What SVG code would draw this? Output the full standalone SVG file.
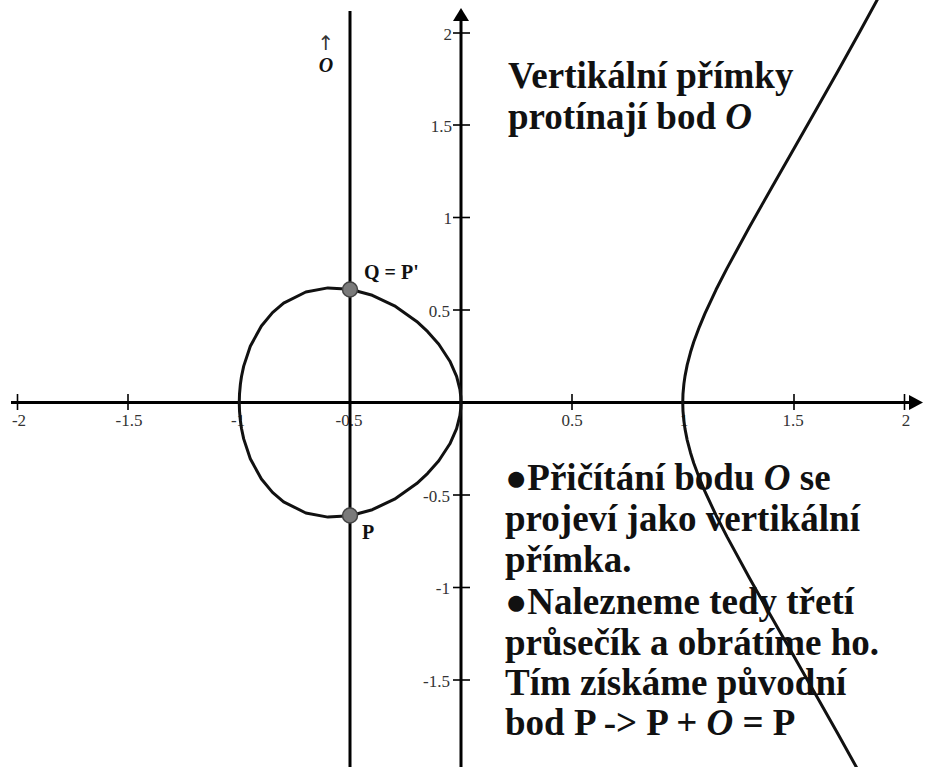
<svg xmlns="http://www.w3.org/2000/svg" width="926" height="767" viewBox="0 0 926 767">
<style>
.ax{stroke:#000;stroke-width:3;fill:none}
.tk{stroke:#000;stroke-width:1.6;fill:none}
.cv{stroke:#111;stroke-width:3;fill:none;stroke-linejoin:round;stroke-linecap:round}
.lb{font-family:'Liberation Serif','Times New Roman',Tinos,'DejaVu Serif',serif;font-size:17px;fill:#333}
.lx{text-anchor:middle}
.ly{text-anchor:end}
.big{font-family:'Liberation Serif','Times New Roman',Tinos,'DejaVu Serif',serif;font-weight:bold;font-size:37px;fill:#111}
.pt{fill:#7a7a7a;stroke:#444;stroke-width:1.5}
.pl{font-family:'Liberation Serif','Times New Roman',Tinos,'DejaVu Serif',serif;font-weight:bold;font-size:20px;fill:#111}
</style>
<rect width="926" height="767" fill="#fff"/>
<g id="axes">
<line class="ax" x1="11" y1="402.5" x2="912" y2="402.5"/>
<polygon points="923,402.5 909,395 909,410" fill="#000"/>
<line class="ax" x1="461" y1="767" x2="461" y2="18"/>
<polygon points="461,8 453,21 469,21" fill="#000"/>
<g class="tk">
<line x1="17.5" y1="394" x2="17.5" y2="410"/>
<line x1="128" y1="394" x2="128" y2="410"/>
<line x1="239" y1="394" x2="239" y2="410"/>
<line x1="350" y1="394" x2="350" y2="410"/>
<line x1="572" y1="394" x2="572" y2="410"/>
<line x1="683" y1="394" x2="683" y2="410"/>
<line x1="794" y1="394" x2="794" y2="410"/>
<line x1="904.5" y1="394" x2="904.5" y2="410"/>
<line x1="453" y1="33" x2="470" y2="33"/>
<line x1="453" y1="125" x2="470" y2="125"/>
<line x1="453" y1="217.5" x2="470" y2="217.5"/>
<line x1="453" y1="310" x2="470" y2="310"/>
<line x1="453" y1="495" x2="470" y2="495"/>
<line x1="453" y1="587.5" x2="470" y2="587.5"/>
<line x1="453" y1="680" x2="470" y2="680"/>
</g>
<g class="lb lx">
<text x="19" y="426">-2</text>
<text x="129" y="426">-1.5</text>
<text x="238" y="426">-1</text>
<text x="349" y="426">-0.5</text>
<text x="572" y="426">0.5</text>
<text x="684" y="426">1</text>
<text x="793" y="426">1.5</text>
<text x="906" y="426">2</text>
</g>
<g class="lb ly">
<text x="452" y="40">2</text>
<text x="452" y="132">1.5</text>
<text x="452" y="224">1</text>
<text x="450" y="317">0.5</text>
<text x="450" y="502">-0.5</text>
<text x="450" y="594">-1</text>
<text x="450" y="687">-1.5</text>
</g>
</g>
<g id="vertical-line">
<line class="ax" x1="350" y1="11" x2="350" y2="767"/>
<text x="326" y="50" text-anchor="middle" style="font-family:'DejaVu Sans',sans-serif;font-size:20px;fill:#333">↑</text>
<text class="pl" x="326" y="72" text-anchor="middle" font-style="italic">O</text>
</g>
<g id="text-title">
<text class="big" x="508" y="88">Vertikální přímky</text>
<text class="big" x="508" y="129">protínají bod <tspan font-style="italic">O</tspan></text>
</g>
<g id="text-body" class="big">
<text x="505" y="490">●Přičítání bodu <tspan font-style="italic">O</tspan> se</text>
<text x="505" y="531">projeví jako vertikální</text>
<text x="505" y="572">přímka.</text>
<text x="505" y="614">●Nalezneme tedy třetí</text>
<text x="505" y="655">průsečík a obrátíme ho.</text>
<text x="505" y="695">Tím získáme původní</text>
<text x="505" y="735">bod P -&gt; P + <tspan font-style="italic">O</tspan> = P</text>
</g>
<g id="curve">
<path class="cv" d="M461,402.5 L460.8,396.7 L459.9,389.4 L456.6,376.3 L449.9,361.2 L438.8,344.3 L427.7,331.7 L416.7,321.4 L394.5,305.8 L372.3,295.3 L350.1,289.2 L327.9,287.9 L305.8,292 L283.6,303.2 L272.5,312.6 L261.4,326 L250.3,346.2 L243.7,366.1 L241.5,376.5 L240.4,384.1 L239.5,394.2 L239.25,402.5 L239.5,410.8 L240.4,420.9 L241.5,428.5 L243.7,438.9 L250.3,458.8 L261.4,479 L272.5,492.4 L283.6,501.8 L305.8,513 L327.9,517.1 L350.1,515.8 L372.3,509.7 L394.5,499.2 L416.7,483.6 L427.7,473.3 L438.8,460.7 L449.9,443.8 L456.6,428.7 L459.9,415.6 L460.8,408.3 Z"/>
<path class="cv" d="M882.3,-9.5 L860.2,31 L838,70.9 L815.8,110.2 L793.6,149.2 L771.5,188 L749.3,227.3 L727.1,268.1 L716,289.8 L704.9,313.6 L699.4,326.8 L693.8,341.8 L690.5,352.3 L687.2,364.9 L685,376.1 L683.9,383.9 L682.97,394.2 L682.75,402.5 L682.97,410.8 L683.9,421.1 L685,428.9 L687.2,440.1 L690.5,452.7 L693.8,463.2 L699.4,478.2 L704.9,491.4 L716,515.2 L727.1,536.9 L749.3,577.7 L771.5,617 L793.6,655.8 L815.8,694.8 L838,734.1 L860.2,774"/>
</g>
<g id="point-Q">
<circle class="pt" cx="350" cy="289.5" r="7.5"/>
<text class="pl" x="364" y="279">Q = P'</text>
</g>
<g id="point-P">
<circle class="pt" cx="350" cy="515.5" r="7.5"/>
<text class="pl" x="362" y="539">P</text>
</g>
</svg>
